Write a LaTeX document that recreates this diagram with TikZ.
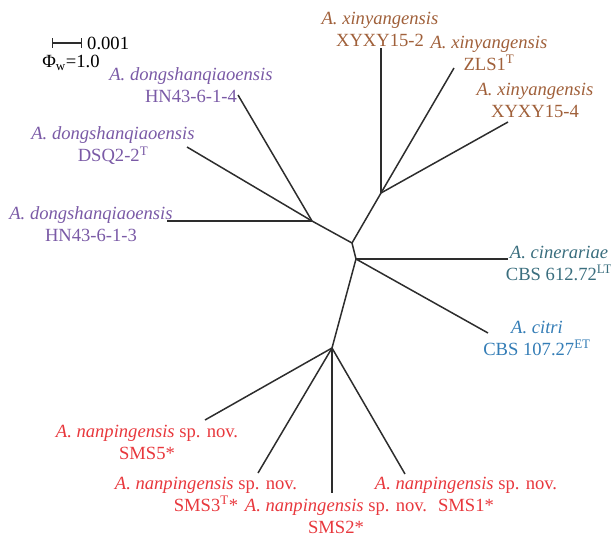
\documentclass[tikz,border=0pt]{standalone}
\usepackage{fontspec}
\setmainfont{Liberation Serif}
\definecolor{dspurple}{RGB}{122,90,166}
\definecolor{xybrown}{RGB}{160,96,58}
\definecolor{cinteal}{RGB}{58,110,126}
\definecolor{citblue}{RGB}{52,125,182}
\definecolor{npred}{RGB}{232,56,61}
\definecolor{branchgray}{RGB}{45,45,45}
\begin{document}
\begin{tikzpicture}[
	x=1pt, y=-1pt,
	every node/.style={font=\fontsize{18.6}{22}\selectfont, inner sep=0pt, align=center},
	branch/.style={draw=branchgray, line width=1.5pt},
	dslabel/.style={text=dspurple},
	xylabel/.style={text=xybrown},
	cinlabel/.style={text=cinteal},
	citlabel/.style={text=citblue},
	nplabel/.style={text=npred},
]
\useasboundingbox (0,0) rectangle (611,538);
% inner nodes
\coordinate (root) at (352,243);
\coordinate (hub) at (356,259);
\coordinate (xyroot) at (381,193);
\coordinate (dsroot) at (312,221);
\coordinate (nproot) at (332,348);
% tips
\coordinate (tipXYa) at (381,48);
\coordinate (tipZLS) at (454,68);
\coordinate (tipXYb) at (508,122);
\coordinate (tipHNa) at (238,95);
\coordinate (tipDSQ) at (187,147);
\coordinate (tipHNb) at (167,221);
\coordinate (tipCIN) at (508,259);
\coordinate (tipCIT) at (488,333);
\coordinate (tipSMSe) at (205,420);
\coordinate (tipSMSc) at (258,473);
\coordinate (tipSMSb) at (332,493);
\coordinate (tipSMSa) at (405,474);

% branches
\draw[branch] (root) -- (hub);
\draw[branch] (root) -- (xyroot);
\draw[branch] (root) -- (dsroot);
\draw[branch] (hub) -- (nproot);
\draw[branch] (hub) -- (tipCIN);
\draw[branch] (hub) -- (tipCIT);
\draw[branch] (xyroot) -- (tipXYa);
\draw[branch] (xyroot) -- (tipZLS);
\draw[branch] (xyroot) -- (tipXYb);
\draw[branch] (dsroot) -- (tipHNa);
\draw[branch] (dsroot) -- (tipDSQ);
\draw[branch] (dsroot) -- (tipHNb);
\draw[branch] (nproot) -- (tipSMSe);
\draw[branch] (nproot) -- (tipSMSc);
\draw[branch] (nproot) -- (tipSMSb);
\draw[branch] (nproot) -- (tipSMSa);

% labels
\node[xylabel] (labXYa) at (380,29) {\textit{A. xinyangensis}\\XYXY15-2};
\node[xylabel] (labZLS) at (489,53) {\textit{A. xinyangensis}\\ZLS1\textsuperscript{T}};
\node[xylabel] (labXYb) at (535,100) {\textit{A. xinyangensis}\\XYXY15-4};
\node[dslabel] (labHNa) at (191,85) {\textit{A. dongshanqiaoensis}\\HN43-6-1-4};
\node[dslabel] (labDSQ) at (113,146) {\textit{A. dongshanqiaoensis}\\DSQ2-2\textsuperscript{T}};
\node[dslabel] (labHNb) at (91,224) {\textit{A. dongshanqiaoensis}\\HN43-6-1-3};
\node[cinlabel] (labCIN) at (559,263) {\textit{A. cinerariae}\\CBS 612.72\textsuperscript{LT}};
\node[citlabel] (labCIT) at (537,338) {\textit{A. citri}\\CBS 107.27\textsuperscript{ET}};
\node[nplabel] (labSMSe) at (147,442) {\textit{A. nanpingensis} sp. nov.\\SMS5*};
\node[nplabel] (labSMSc) at (206,494) {\textit{A. nanpingensis} sp. nov.\\SMS3\textsuperscript{T}*};
\node[nplabel] (labSMSb) at (336,516) {\textit{A. nanpingensis} sp. nov.\\SMS2*};
\node[nplabel] (labSMSa) at (466,494) {\textit{A. nanpingensis} sp. nov.\\SMS1*};

% scale bar
\coordinate (barL) at (52,43);
\coordinate (barR) at (82,43);
\draw[branch, line width=1.3pt, |-|] (barL) -- (barR);
\node[anchor=west] (barlab) at (87,43) {0.001};
\node (philab) at (71,63) {Φ\textsubscript{w}=1.0};
\end{tikzpicture}
\end{document}
